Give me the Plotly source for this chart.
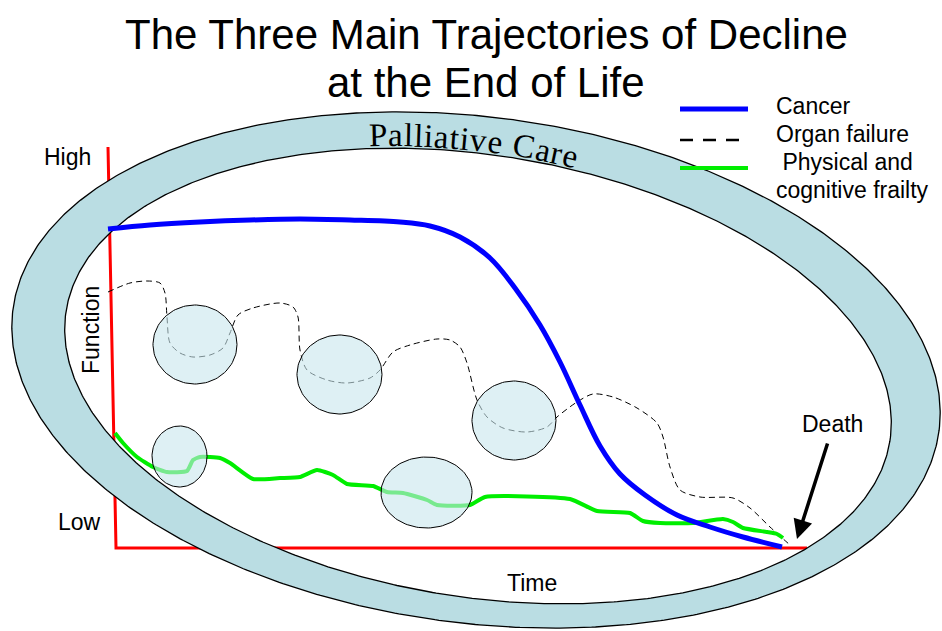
import numpy as np
import plotly.graph_objects as go

# ---------------- data (pixel units of the slide) ----------------
cancer_x = [108, 150, 200, 250, 300, 350, 400, 430, 460, 490, 515, 540, 560, 580, 600, 620, 645, 677, 710, 743, 782]
cancer_y = [229, 225, 222, 220, 219, 220, 222, 226, 237, 258, 288, 325, 362, 405, 446, 474, 495, 515, 527, 537, 547]

organ_x = [108, 130, 147, 160, 165, 167, 170, 180, 193, 210, 223, 230, 238, 253, 280, 293, 298, 300, 307, 327,
           347, 370, 380, 393, 410, 437, 450, 460, 467, 477, 487, 503, 527, 547, 557, 577, 593, 613, 637, 657,
           663, 670, 680, 700, 733, 750, 770, 790]
organ_y = [292, 283, 281, 283, 293, 317, 343, 353, 357, 355, 348, 333, 315, 308, 303, 307, 317, 350, 370, 380,
           383, 378, 370, 352, 345, 339, 340, 347, 363, 400, 417, 428, 432, 427, 417, 402, 394, 397, 408, 423,
           437, 467, 490, 497, 498, 508, 527, 545]

frailty_x = [115, 123, 137, 153, 167, 187, 193, 200, 220, 230, 253, 280, 300, 317, 333, 347, 373, 387, 403, 427,
             437, 470, 485, 570, 597, 630, 643, 660, 693, 723, 733, 743, 767, 777, 783]
frailty_y = [433, 443, 457, 467, 472, 471, 460, 457, 458, 463, 479, 478, 477, 470, 475, 484, 486, 492, 493, 500,
             505, 505, 497, 499, 511, 513, 521, 523, 523, 519, 522, 528, 532, 534, 538]

# crisis bubbles: centre x, centre y, radius x, radius y
bubble_cx = [195, 339.5, 514, 179.5, 426.5]
bubble_cy = [344.5, 374.5, 420.5, 456.5, 492.5]
bubble_rx = [42, 42.5, 42, 27.5, 45.5]
bubble_ry = [39.5, 39.5, 39.5, 30.5, 35.5]

legend_labels = ["Cancer", "Organ failure", " Physical and", "cognitive frailty"]
title_lines = ["The Three Main Trajectories of Decline", "at the End of Life"]
ring_label = "Palliative Care"

# ---------------- helpers ----------------
W, H = 942, 631
SANS = "Liberation Sans, Arial, sans-serif"


def ellipse(cx, cy, a, b, th_deg, t):
    th = np.radians(th_deg)
    x = cx + a * np.cos(t) * np.cos(th) - b * np.sin(t) * np.sin(th)
    y = cy + a * np.cos(t) * np.sin(th) + b * np.sin(t) * np.cos(th)
    return x, y


OUT = dict(cx=476, cy=370, a=467, b=253, th=7.5)
INN = dict(cx=478, cy=376, a=417, b=221, th=9.0)

t = np.linspace(0, 2 * np.pi, 721)
ox, oy = ellipse(OUT["cx"], OUT["cy"], OUT["a"], OUT["b"], OUT["th"], t)
ix, iy = ellipse(INN["cx"], INN["cy"], INN["a"], INN["b"], INN["th"], t)

fig = go.Figure()

# red axes (under the ring)
fig.add_trace(go.Scatter(x=[108, 116, 807], y=[147, 548, 548], mode="lines",
                         line=dict(color="#FF0000", width=3), hoverinfo="skip"))

# ring (annulus) fill
ring_x = np.concatenate([ox, ix[::-1]])
ring_y = np.concatenate([oy, iy[::-1]])
fig.add_trace(go.Scatter(x=ring_x, y=ring_y, mode="lines", fill="toself",
                         fillcolor="#BADDE3", line=dict(width=0), hoverinfo="skip"))
fig.add_trace(go.Scatter(x=ox, y=oy, mode="lines", line=dict(color="black", width=1.3), hoverinfo="skip"))
fig.add_trace(go.Scatter(x=ix, y=iy, mode="lines", line=dict(color="black", width=1.3), hoverinfo="skip"))

# trajectories
fig.add_trace(go.Scatter(x=organ_x, y=organ_y, mode="lines",
                         line=dict(color="black", width=1, dash="6px,4px", shape="spline", smoothing=0.8),
                         hoverinfo="skip"))
fig.add_trace(go.Scatter(x=frailty_x, y=frailty_y, mode="lines",
                         line=dict(color="#00EE00", width=4, shape="spline", smoothing=0.5),
                         hoverinfo="skip"))
fig.add_trace(go.Scatter(x=cancer_x, y=cancer_y, mode="lines",
                         line=dict(color="#0000FF", width=5, shape="spline", smoothing=1.0),
                         hoverinfo="skip"))

# bubbles
tb = np.linspace(0, 2 * np.pi, 120)
for cx, cy, rx, ry in zip(bubble_cx, bubble_cy, bubble_rx, bubble_ry):
    bx, by = ellipse(cx, cy, rx, ry, 0, tb)
    fig.add_trace(go.Scatter(x=bx, y=by, mode="lines", fill="toself",
                             fillcolor="rgba(200,230,236,0.6)",
                             line=dict(color="black", width=1), hoverinfo="skip"))

# legend (drawn manually)
fig.add_trace(go.Scatter(x=[680, 748], y=[109, 109], mode="lines",
                         line=dict(color="#0000FF", width=5), hoverinfo="skip"))
fig.add_trace(go.Scatter(x=[680, 742], y=[140, 140], mode="lines",
                         line=dict(color="black", width=2.5, dash="13px,10px"), hoverinfo="skip"))
fig.add_trace(go.Scatter(x=[680, 748], y=[168, 168], mode="lines",
                         line=dict(color="#00EE00", width=4), hoverinfo="skip"))

ann = []
leg_y = [106, 134, 162, 190]
for lab, yy in zip(legend_labels, leg_y):
    ann.append(dict(x=774, y=yy, text=lab, showarrow=False, xanchor="left", yanchor="middle",
                    font=dict(family=SANS, size=23, color="black")))

# titles
ann.append(dict(x=486, y=34, text=title_lines[0], showarrow=False, xanchor="center", yanchor="middle",
                font=dict(family=SANS, size=42, color="black")))
ann.append(dict(x=486, y=82, text=title_lines[1], showarrow=False, xanchor="center", yanchor="middle",
                font=dict(family=SANS, size=42, color="black")))

# axis words
ann.append(dict(x=67, y=157, text="High", showarrow=False, font=dict(family=SANS, size=23, color="black")))
ann.append(dict(x=79, y=522, text="Low", showarrow=False, font=dict(family=SANS, size=23, color="black")))
ann.append(dict(x=91, y=330, text="Function", textangle=-90, showarrow=False,
                font=dict(family=SANS, size=23, color="black")))
ann.append(dict(x=532, y=583, text="Time", showarrow=False, font=dict(family=SANS, size=23, color="black")))
ann.append(dict(x=832, y=424, text="Death", showarrow=False, font=dict(family=SANS, size=23, color="black")))
# death arrow
ann.append(dict(x=797, y=539, ax=828, ay=442, axref="x", ayref="y", xref="x", yref="y", text="",
                showarrow=True, arrowhead=2, arrowsize=1.1, arrowwidth=3.5, arrowcolor="black"))

# curved "Palliative Care" along the ring
tt = np.linspace(np.pi, 2 * np.pi, 3000)
d = 13
px_, py_ = ellipse(INN["cx"], INN["cy"], INN["a"] + d, INN["b"] + d, INN["th"], tt)
seg = np.hypot(np.diff(px_), np.diff(py_))
s = np.concatenate([[0], np.cumsum(seg)])
s0 = np.interp(368, px_, s)
s1 = np.interp(578, px_, s)
cw = {"P": .556, "a": .444, "l": .278, "i": .278, "t": .278, "v": .5, "e": .444, " ": .25,
      "C": .667, "r": .333}
widths = np.array([cw[c] for c in ring_label])
scale = (s1 - s0) / widths.sum()
cum = np.concatenate([[0], np.cumsum(widths)])[:-1]
for ch, c0, w in zip(ring_label, cum, widths):
    if ch == " ":
        continue
    sc = s0 + (c0 + w / 2) * scale
    xx = np.interp(sc, s, px_)
    yy = np.interp(sc, s, py_)
    k = np.searchsorted(s, sc)
    k = min(max(k, 1), len(s) - 1)
    ang = np.degrees(np.arctan2(py_[k] - py_[k - 1], px_[k] - px_[k - 1]))
    ann.append(dict(x=xx, y=yy, text=ch, showarrow=False, textangle=ang, xanchor="center", yanchor="middle",
                    font=dict(family="Liberation Serif, serif", size=33, color="black")))

fig.update_layout(
    width=W, height=H, margin=dict(l=0, r=0, t=0, b=0),
    paper_bgcolor="white", plot_bgcolor="white", showlegend=False,
    xaxis=dict(range=[0, W], visible=False, fixedrange=True),
    yaxis=dict(range=[H, 0], visible=False, fixedrange=True),
    annotations=ann,
)

fig.write_html("out.html", config={"displayModeBar": False},
               post_script="document.body.style.margin='0';document.body.style.overflow='hidden';")
